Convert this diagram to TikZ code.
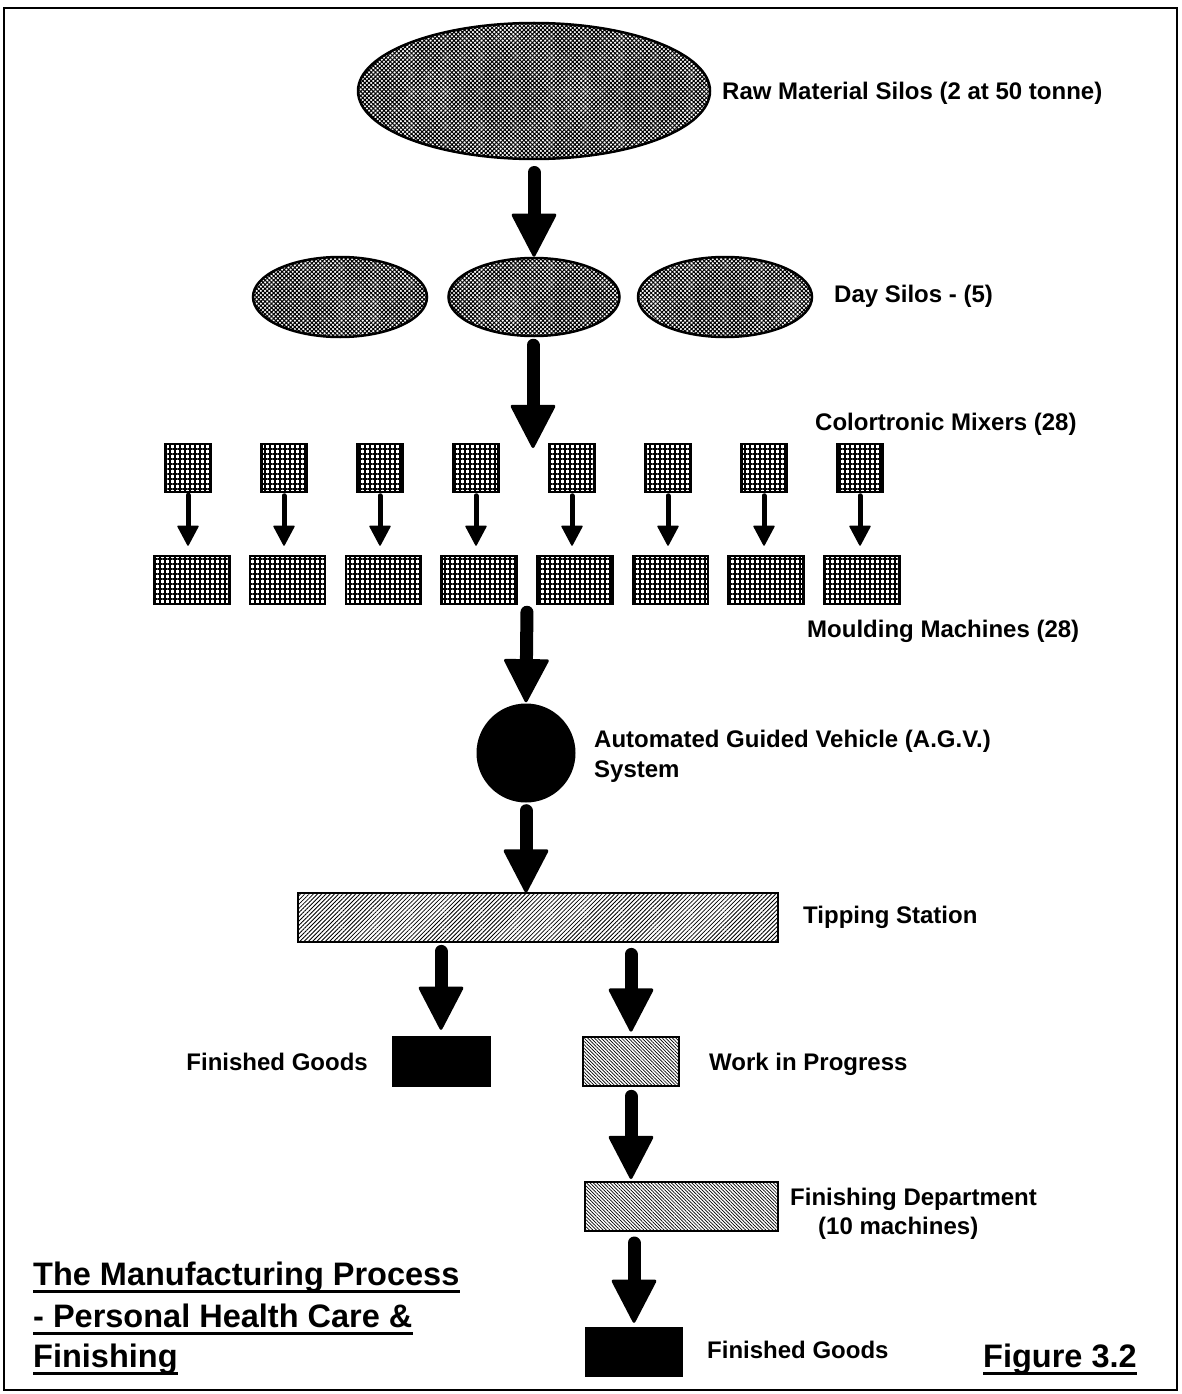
\documentclass[tikz,border=0pt]{standalone}
\usepackage{fontspec}
\setmainfont{Liberation Sans}
\usetikzlibrary{arrows.meta,patterns.meta,calc,shapes.geometric}

\begin{document}
\begin{tikzpicture}[x=1pt,y=-1pt,
  silo/.style={ellipse, draw, line width=2.5pt, inner sep=0,
    pattern={Hatch[angle=45,distance=3pt,line width=1pt]}},
  mixer/.style={rectangle, draw, line width=2.5pt, inner sep=0,
    minimum width=45pt, minimum height=48pt,
    pattern={Hatch[angle=0,distance=5pt,line width=1.3pt]}},
  mould/.style={mixer, minimum width=75pt, minimum height=48pt},
  station/.style={rectangle, draw, line width=2pt, inner sep=0,
    pattern={Lines[angle=45,distance=3pt,line width=0.8pt]}},
  wipbox/.style={rectangle, draw, line width=2pt, inner sep=0,
    pattern={Lines[angle=-45,distance=2.4pt,line width=0.7pt]}},
  goods/.style={rectangle, fill=black, inner sep=0},
  bigarrow/.style={line width=13pt, line cap=round,
    -{Triangle[width=46pt,length=45pt,round,line width=3pt]}},
  smallarrow/.style={line width=5pt, line cap=round,
    -{Triangle[width=22pt,length=21pt,round,line width=1.5pt]}},
  lbl/.style={font=\fontsize{24}{30}\selectfont\bfseries, inner sep=0, anchor=west, align=left},
  ttl/.style={font=\fontsize{32.5}{40}\selectfont\bfseries, inner sep=0, anchor=base west},
  uline/.style={line width=3pt}
]
\useasboundingbox (0,0) rectangle (1181,1394);
\draw[line width=2pt] (4,8) rectangle (1177,1390);

% silos
\node[silo, minimum width=352pt, minimum height=136pt] (raw) at (534,91) {};
\node[lbl] (rawlbl) at (722,93) {Raw Material Silos (2 at 50 tonne)};

\node[silo, minimum width=174pt, minimum height=80pt] (dleft) at (340,297) {};
\node[silo, minimum width=171pt, minimum height=78pt] (dmid) at (534,297) {};
\node[silo, minimum width=174pt, minimum height=80pt] (dright) at (725,297) {};
\node[lbl] (daylbl) at (834,296) {Day Silos - (5)};

\draw[bigarrow] ([yshift=-13pt]raw.south) -- (dmid.north);

% mixers and moulding machines
\foreach \i in {1,...,8} {
  \node[mixer] (mx\i) at ({188+96*(\i-1)},468) {};
  \node[mould] (mm\i) at ({192+95.7*(\i-1)},580) {};
  \draw[smallarrow] ([yshift=-2.5pt]mx\i.south) -- ([yshift=9pt]mx\i.south |- mm\i.north);
}
\node[lbl] (mxlbl) at (815,424) {Colortronic Mixers (28)};
\node[lbl] (mmlbl) at (807,631) {Moulding Machines (28)};

\coordinate (mixgap) at (533,448);
\draw[bigarrow] ([yshift=-8pt]dmid.south -| mixgap) -- (mixgap);

% automated guided vehicle
\node[circle, fill=black, inner sep=0, minimum size=99pt] (agv) at (526,753) {};
\node[lbl] (agvlbl) at (594,756) {Automated Guided Vehicle (A.G.V.)\\System};
\draw[bigarrow] ([yshift=-7pt]$(mm4.south east)!.5!(mm5.south west)$) -- ([yshift=1pt]agv.north);

% tipping station
\node[station, minimum width=480pt, minimum height=49pt] (tip) at (538,917.5) {};
\node[lbl] (tiplbl) at (803,917) {Tipping Station};
\draw[bigarrow] ([yshift=-8pt]agv.south) -- (agv.south |- tip.north);

% outputs of the tipping station
\node[goods, minimum width=99pt, minimum height=51pt] (fg1) at (441,1061.5) {};
\node[lbl, anchor=east] (fg1lbl) at (368,1062) {Finished Goods};
\node[wipbox, minimum width=96pt, minimum height=49pt] (wip) at (631,1061.5) {};
\node[lbl] (wiplbl) at (709,1064) {Work in Progress};
\draw[bigarrow] ([yshift=-9pt]fg1.north |- tip.south) -- ([yshift=6pt]fg1.north);
\draw[bigarrow] ([yshift=-12pt]wip.north |- tip.south) -- ([yshift=5pt]wip.north);

% finishing department
\node[wipbox, minimum width=193pt, minimum height=49pt] (fin) at (681,1206.5) {};
\node[lbl] (finlbl) at (790,1199) {Finishing Department};
\node[lbl] (finlbl2) at (818,1228) {(10 machines)};
\draw[bigarrow] ([yshift=-10pt]wip.south) -- ([yshift=2pt]wip.south |- fin.north);

\node[goods, minimum width=98pt, minimum height=50pt] (fg2) at (634,1352) {};
\node[lbl] (fg2lbl) at (707,1350) {Finished Goods};
\draw[bigarrow] ([yshift=-11pt]fg2.north |- fin.south) -- ([yshift=4pt]fg2.north);

% caption
\node[ttl] (t1) at (33,1285) {The Manufacturing Process};
\node[ttl] (t2) at (33,1327) {- Personal Health Care \&};
\node[ttl] (t3) at (33,1367) {Finishing};
\node[ttl] (fig) at (983,1367) {Figure 3.2};
\foreach \t in {t1,t2,t3,fig}
  \draw[uline] ([yshift=-6pt]\t.base west) -- ([yshift=-6pt]\t.base east);
\end{tikzpicture}
\end{document}
